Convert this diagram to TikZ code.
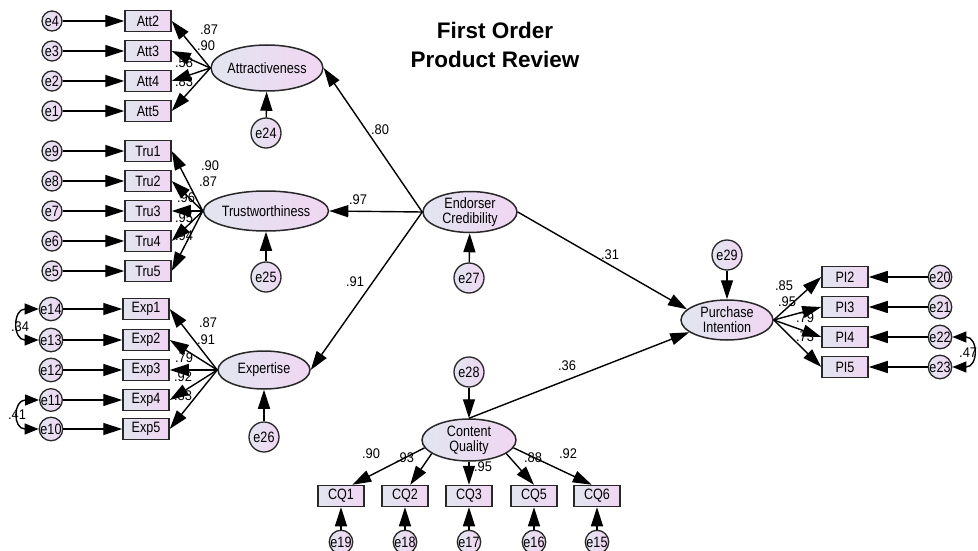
\documentclass[tikz,border=0pt]{standalone}
\usepackage{fontspec}
\setmainfont{Liberation Sans}
\newfontfamily\narrowfont[FakeStretch=0.84]{Liberation Sans}
\newfontfamily\lblfont[FakeStretch=0.92]{Liberation Sans}
\usetikzlibrary{arrows.meta,shapes.geometric}
\definecolor{cL}{RGB}{226,229,240}
\definecolor{cR}{RGB}{240,214,242}
\definecolor{edge}{RGB}{40,40,40}
\begin{document}
\begin{tikzpicture}[x=1pt,y=-1pt,
  txt/.style={font=\narrowfont\fontsize{15}{15}\selectfont},
  obs/.style={txt,rectangle,draw=edge,line width=1.5pt,minimum width=46pt,minimum height=21pt,inner sep=0pt,left color=cL,right color=cR},
  lat/.style={txt,ellipse,draw=edge,line width=1.5pt,inner sep=0pt,align=center,left color=cL,right color=cR},
  errs/.style={txt,circle,draw=edge,line width=1.3pt,minimum size=20pt,inner sep=0pt,left color=cL,right color=cR},
  errb/.style={txt,circle,draw=edge,line width=1.3pt,minimum size=30pt,inner sep=0pt,left color=cL,right color=cR},
  pth/.style={draw=black,line width=1.4pt,-{Triangle[length=19pt,width=12pt]}},
  cov/.style={draw=black,line width=1.4pt,{Triangle[length=14pt,width=11pt]}-{Triangle[length=14pt,width=11pt]}},
  lbl/.style={font=\lblfont\fontsize{14}{14}\selectfont,inner sep=0pt}
]
\useasboundingbox (0,0) rectangle (978,551);
\fill[white] (0,0) rectangle (978,551);

% title
\node[font=\bfseries\fontsize{22.5}{29}\selectfont,align=center] (title) at (495,45) {First Order\\Product Review};

% labels (drawn first so that arrows cover them)
\node[lbl] (l1) at (209,30) {.87};
\node[lbl] (l2) at (206,46) {.90};
\node[lbl] (l3) at (184,63) {.58};
\node[lbl] (l4) at (184,82) {.83};
\node[lbl] (l5) at (210,166) {.90};
\node[lbl] (l6) at (208,182) {.87};
\node[lbl] (l7) at (186,198) {.96};
\node[lbl] (l8) at (184,218) {.95};
\node[lbl] (l9) at (184,236) {.94};
\node[lbl] (l10) at (208,323) {.87};
\node[lbl] (l11) at (206,340) {.91};
\node[lbl] (l12) at (184,358) {.79};
\node[lbl] (l13) at (183,377) {.92};
\node[lbl] (l14) at (183,396) {.83};
\node[lbl] (l15) at (380,130) {.80};
\node[lbl] (l16) at (358,200) {.97};
\node[lbl] (l17) at (355,282) {.91};
\node[lbl] (l18) at (610,255) {.31};
\node[lbl] (l19) at (567,366) {.36};
\node[lbl] (l20) at (784,286) {.85};
\node[lbl] (l21) at (787,302) {.95};
\node[lbl] (l22) at (805,318) {.79};
\node[lbl] (l23) at (805,337) {.73};
\node[lbl] (l24) at (371,454) {.90};
\node[lbl] (l25) at (405,458) {.93};
\node[lbl] (l26) at (483,467) {.95};
\node[lbl] (l27) at (533,458) {.88};
\node[lbl] (l28) at (568,454) {.92};
\node[lbl] (l29) at (20,327) {.34};
\node[lbl] (l30) at (17,415) {.41};
\node[lbl,anchor=west] (l31) at (959,353) {.47};

% latent variables
\node[lat,minimum width=94pt,minimum height=46pt] (Attr) at (267,68) {Attractiveness};
\node[lat,minimum width=94pt,minimum height=40pt] (Tru) at (266,211) {Trustworthiness};
\node[lat,minimum width=92pt,minimum height=38pt] (Exp) at (264,370) {Expertise};
\node[lat,minimum width=94pt,minimum height=40pt] (EC) at (470,212) {Endorser\\Credibility};
\node[lat,minimum width=92pt,minimum height=40pt] (PI) at (727,320) {Purchase\\Intention};
\node[lat,minimum width=94pt,minimum height=42pt] (CQ) at (469,440) {Content\\Quality};

% residuals of latents
\node[errb] (e24) at (266,133) {e24};
\node[errb] (e25) at (266,277) {e25};
\node[errb] (e26) at (264,437) {e26};
\node[errb] (e27) at (469,278) {e27};
\node[errb] (e29) at (727,255) {e29};
\node[errb] (e28) at (469,372) {e28};

% attractiveness indicators
\node[obs] (Att2) at (148,21) {Att2};
\node[obs] (Att3) at (148,51) {Att3};
\node[obs] (Att4) at (148,81) {Att4};
\node[obs] (Att5) at (148,111) {Att5};
\node[errs] (e4) at (52,21) {e4};
\node[errs] (e3) at (52,51) {e3};
\node[errs] (e2) at (52,81) {e2};
\node[errs] (e1) at (52,111) {e1};

% trustworthiness indicators
\node[obs] (Tru1) at (148,151) {Tru1};
\node[obs] (Tru2) at (148,181) {Tru2};
\node[obs] (Tru3) at (148,211) {Tru3};
\node[obs] (Tru4) at (148,241) {Tru4};
\node[obs] (Tru5) at (148,271) {Tru5};
\node[errs] (e9) at (52,151) {e9};
\node[errs] (e8) at (52,181) {e8};
\node[errs] (e7) at (52,211) {e7};
\node[errs] (e6) at (52,241) {e6};
\node[errs] (e5) at (52,271) {e5};

% expertise indicators
\node[obs] (Exp1) at (146,309) {Exp1};
\node[obs] (Exp2) at (146,340) {Exp2};
\node[obs] (Exp3) at (146,370) {Exp3};
\node[obs] (Exp4) at (146,400) {Exp4};
\node[obs] (Exp5) at (146,429) {Exp5};
\node[errs] (e14) at (51,309) {e14};
\node[errs] (e13) at (51,340) {e13};
\node[errs] (e12) at (51,370) {e12};
\node[errs] (e11) at (51,400) {e11};
\node[errs] (e10) at (51,429) {e10};

% purchase intention indicators
\node[obs] (PI2) at (845,277) {PI2};
\node[obs] (PI3) at (845,307) {PI3};
\node[obs] (PI4) at (845,337) {PI4};
\node[obs] (PI5) at (845,367) {PI5};
\node[errs] (e20) at (940,277) {e20};
\node[errs] (e21) at (940,307) {e21};
\node[errs] (e22) at (940,337) {e22};
\node[errs] (e23) at (940,367) {e23};

% content quality indicators
\node[obs] (CQ1) at (341,496) {CQ1};
\node[obs] (CQ2) at (405,496) {CQ2};
\node[obs] (CQ3) at (469,496) {CQ3};
\node[obs] (CQ5) at (534,496) {CQ5};
\node[obs] (CQ6) at (597,496) {CQ6};
\node[errs] (e19) at (341,542) {e19};
\node[errs] (e18) at (405,542) {e18};
\node[errs] (e17) at (469,542) {e17};
\node[errs] (e16) at (534,542) {e16};
\node[errs] (e15) at (597,542) {e15};

% error -> indicator
\foreach \e/\b in {e4/Att2,e3/Att3,e2/Att4,e1/Att5,e9/Tru1,e8/Tru2,e7/Tru3,e6/Tru4,e5/Tru5,e14/Exp1,e13/Exp2,e12/Exp3,e11/Exp4,e10/Exp5,e20/PI2,e21/PI3,e22/PI4,e23/PI5,e19/CQ1,e18/CQ2,e17/CQ3,e16/CQ5,e15/CQ6,e24/Attr,e25/Tru,e26/Exp,e27/EC,e29/PI,e28/CQ}
  \draw[pth] (\e) -- (\b);

% loadings
\foreach \b in {Att2,Att3,Att4,Att5} \draw[pth] (Attr.west) -- (\b.east);
\foreach \b in {Tru1,Tru2,Tru3,Tru4,Tru5} \draw[pth] (Tru.west) -- (\b.east);
\foreach \b in {Exp1,Exp2,Exp3,Exp4,Exp5} \draw[pth] (Exp.west) -- (\b.east);
\foreach \b in {PI2,PI3,PI4,PI5} \draw[pth] (PI.east) -- (\b.west);
\draw[pth] (CQ.190) -- (CQ1.45);
\draw[pth] (CQ.200) -- (CQ2.65);
\draw[pth] (CQ.south) -- (CQ3.north);
\draw[pth] (CQ.340) -- (CQ5.north);
\draw[pth] (CQ.350) -- (CQ6.115);

% second order and structural paths
\draw[pth] (EC.west) -- (Attr.east);
\draw[pth] (EC.west) -- (Tru.east);
\draw[pth] (EC.west) -- (Exp.east);
\draw[pth] (EC.east) -- (PI.165);
\draw[pth] (CQ.north) -- (PI.198);

% covariances
\draw[cov] (e14.west) .. controls +(-26,0) and +(-26,0) .. (e13.west);
\draw[cov] (e11.west) .. controls +(-26,0) and +(-26,0) .. (e10.west);
\draw[cov] (e22.east) .. controls +(26,0) and +(26,0) .. (e23.east);
\end{tikzpicture}
\end{document}
